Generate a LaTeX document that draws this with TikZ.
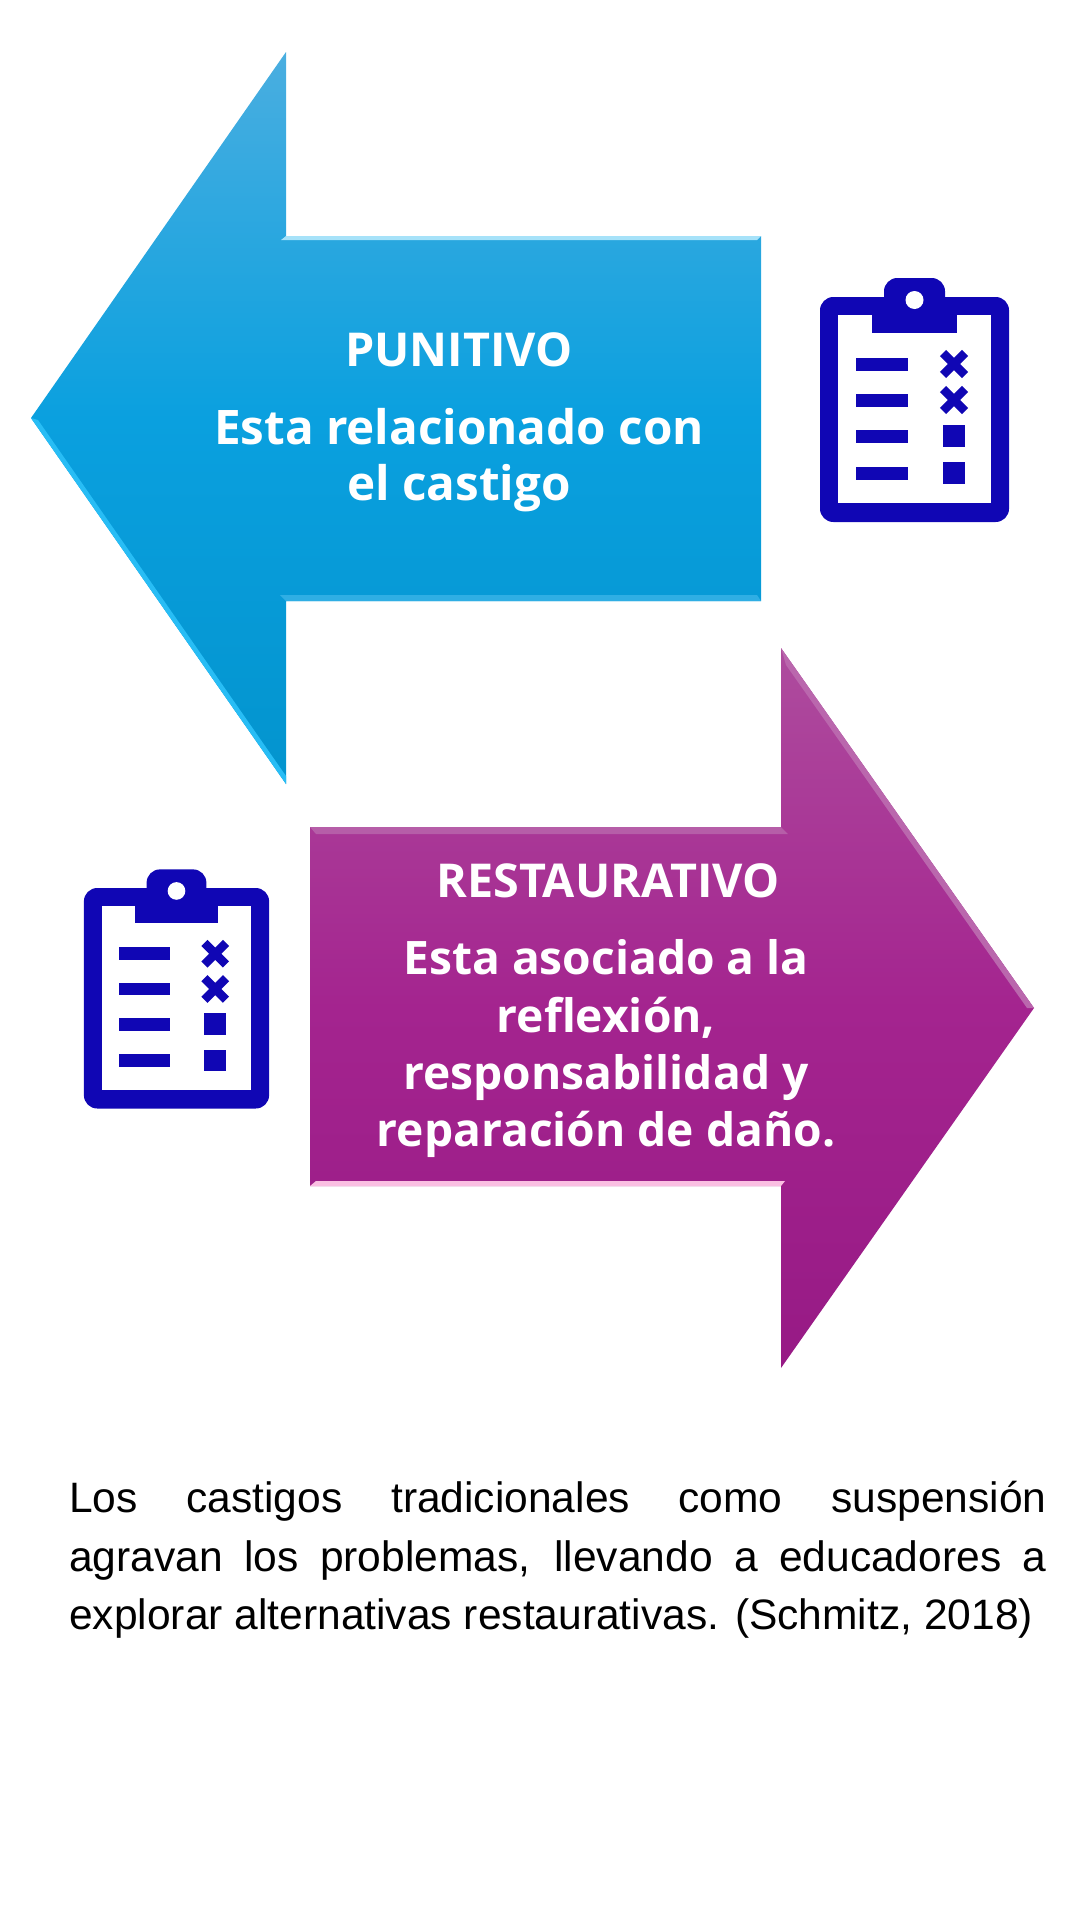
\documentclass[tikz,border=0pt]{standalone}
\usepackage{fontspec}
\setmainfont{Liberation Sans}
\newfontfamily\arrowfont{Open Sans}
\definecolor{clipblue}{HTML}{1006B4}
\definecolor{puntop}{HTML}{4AAEE0}
\definecolor{punmid}{HTML}{0AA0DF}
\definecolor{punbot}{HTML}{0394CE}
\definecolor{punedge}{HTML}{28BDF5}
\definecolor{restop}{HTML}{AE4C9E}
\definecolor{resmid}{HTML}{A4248F}
\definecolor{resbot}{HTML}{971A85}
\tikzset{
  arrowtext/.style={text=white, align=center, font=\arrowfont\bfseries\fontsize{35}{43}\selectfont},
  clipboard/.pic={
    % frame with its tab, white sheet on top
    \fill[clipblue, rounded corners=10] (-94.5,0) rectangle (94.5,225);
    \fill[clipblue, rounded corners=10] (-30.5,-19) rectangle (30.5,20);
    \fill[white] (-76.5,18) rectangle (76.5,206);
    \fill[clipblue] (-42.5,15) rectangle (42.5,36);
    \fill[white] (0,3) circle (9);
    % list rows
    \foreach \y in {67,103,139,176}
      \fill[clipblue] (-58.5,\y-6.5) rectangle (-6.5,\y+6.5);
    \foreach \y in {67,103}
      \draw[clipblue, line width=6.5pt] (28.5,\y-11) -- (50.5,\y+11) (28.5,\y+11) -- (50.5,\y-11);
    \foreach \y in {139,176}
      \fill[clipblue] (28.5,\y-11) rectangle (50.5,\y+11);
  }
}
\begin{document}
\begin{tikzpicture}[x=0.75pt,y=-0.75pt]
  \useasboundingbox (0,0) rectangle (1080,1920);

  % Left arrow
  \shade[top color=puntop, bottom color=punbot, middle color=punmid]
    (31,418) -- (286,52) -- (286,236) -- (761,236) -- (761,601) -- (286,601) -- (286,784) -- cycle;
  \fill[cyan!35!white] (281,240) -- (286,236) -- (761,236) -- (757,240) -- cycle;
  \fill[punedge] (31,418) -- (38,420) -- (286,776) -- (286,784) -- cycle;
  \fill[punmid!85!white] (280,595) -- (757,595) -- (761,601) -- (286,601) -- cycle;

  % Right arrow
  \shade[top color=restop, bottom color=resbot, middle color=resmid]
    (1034,1008) -- (781,648) -- (781,827) -- (310,827) -- (310,1186) -- (781,1186) -- (781,1368) -- cycle;
  \fill[restop!85!white] (781,648) -- (1034,1008) -- (1027,1008) -- (786,665) -- cycle;
  \fill[restop!90!white] (310,827) -- (781,827) -- (788,834) -- (316,834) -- cycle;
  \fill[magenta!25!white] (310,1186) -- (316,1181) -- (785,1181) -- (781,1186) -- cycle;

  % Clipboards
  \pic (clipA) at (914.5,297) {clipboard};
  \pic[scale=.98] (clipB) at (176.5,888) {clipboard};

  % Arrow texts
  \node[arrowtext] (punTitle) at (459,350) {PUNITIVO};
  \node[arrowtext, font=\arrowfont\bfseries\fontsize{35.7}{42}\selectfont] (punText) at (459,460.5) {Esta relacionado con\\[0pt]el castigo};
  \node[arrowtext] (resTitle) at (608,881) {RESTAURATIVO};
  \node[arrowtext, font=\arrowfont\bfseries\fontsize{34.6}{43}\selectfont] (resText) at (606,1049) {Esta asociado a la\\reflexión,\\responsabilidad y\\reparación de daño.};

  % Caption
  \node[anchor=north west, inner sep=0pt, text width=733pt, align=justify,
        font=\fontsize{31.9}{44}\selectfont] (caption) at (69,1481)
    {Los castigos tradicionales como suspensión\linebreak agravan los problemas, llevando a educadores a\linebreak explorar alternativas restaurativas. (Schmitz, 2018)};
\end{tikzpicture}
\end{document}
